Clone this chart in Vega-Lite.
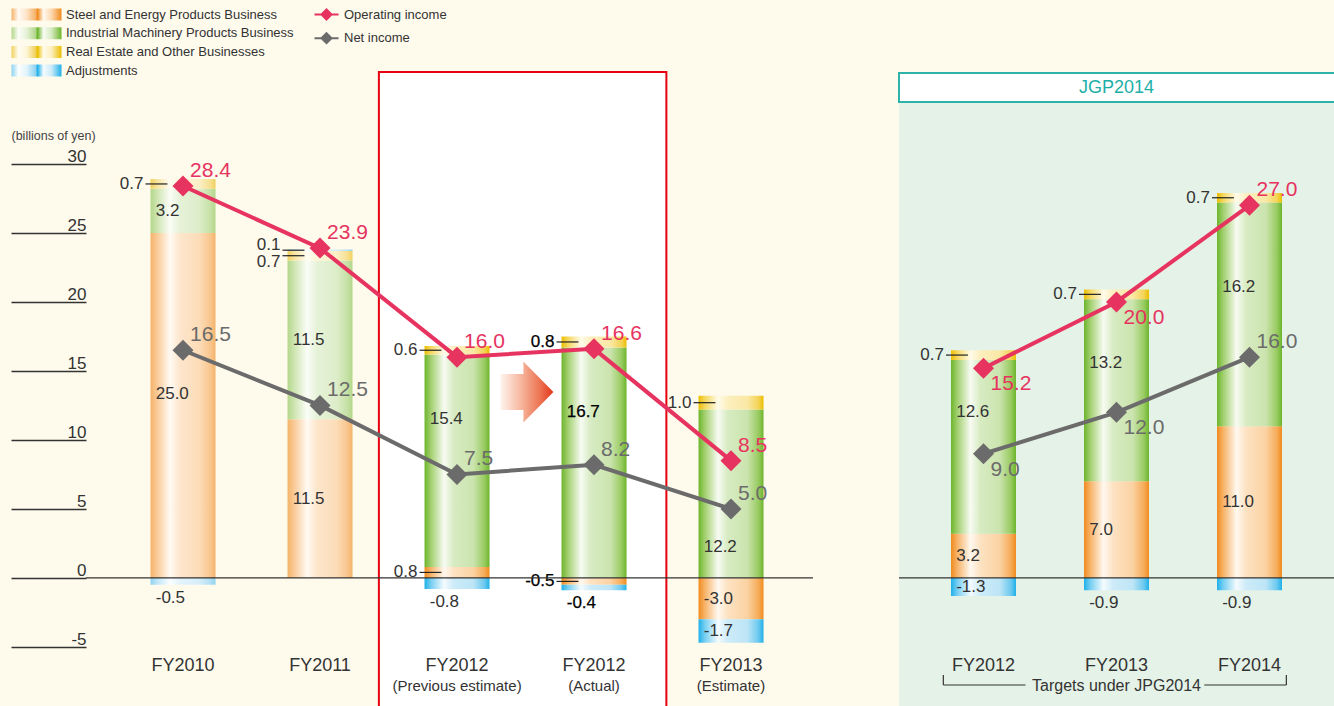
{
  "$schema": "https://vega.github.io/schema/vega-lite/v6.json",
  "background": "#fefaec",
  "padding": {"left": 10, "top": 0, "right": 0, "bottom": 0},
  "spacing": 84,
  "config": {"font": "Liberation Sans", "view": {"stroke": null}},
  "datasets": {
    "leftBars": [
      {"cat": "FY2010", "seg": "Steel and Energy Products Business", "v": 25.0},
      {"cat": "FY2010", "seg": "Industrial Machinery Products Business", "v": 3.2},
      {"cat": "FY2010", "seg": "Real Estate and Other Businesses", "v": 0.7},
      {"cat": "FY2010", "seg": "Adjustments", "v": -0.5},
      {"cat": "FY2011", "seg": "Steel and Energy Products Business", "v": 11.5},
      {"cat": "FY2011", "seg": "Industrial Machinery Products Business", "v": 11.5},
      {"cat": "FY2011", "seg": "Real Estate and Other Businesses", "v": 0.7},
      {"cat": "FY2011", "seg": "Adjustments", "v": 0.1},
      {"cat": "FY2012 (Previous estimate)", "seg": "Steel and Energy Products Business", "v": 0.8},
      {"cat": "FY2012 (Previous estimate)", "seg": "Industrial Machinery Products Business", "v": 15.4},
      {"cat": "FY2012 (Previous estimate)", "seg": "Real Estate and Other Businesses", "v": 0.6},
      {"cat": "FY2012 (Previous estimate)", "seg": "Adjustments", "v": -0.8},
      {"cat": "FY2012 (Actual)", "seg": "Steel and Energy Products Business", "v": -0.5},
      {"cat": "FY2012 (Actual)", "seg": "Industrial Machinery Products Business", "v": 16.7},
      {"cat": "FY2012 (Actual)", "seg": "Real Estate and Other Businesses", "v": 0.8},
      {"cat": "FY2012 (Actual)", "seg": "Adjustments", "v": -0.4},
      {"cat": "FY2013 (Estimate)", "seg": "Steel and Energy Products Business", "v": -3.0},
      {"cat": "FY2013 (Estimate)", "seg": "Industrial Machinery Products Business", "v": 12.2},
      {"cat": "FY2013 (Estimate)", "seg": "Real Estate and Other Businesses", "v": 1.0},
      {"cat": "FY2013 (Estimate)", "seg": "Adjustments", "v": -1.7}
    ],
    "leftLines": [
      {"cat": "FY2010", "series": "Operating income", "v": 28.4},
      {"cat": "FY2011", "series": "Operating income", "v": 23.9},
      {"cat": "FY2012 (Previous estimate)", "series": "Operating income", "v": 16.0},
      {"cat": "FY2012 (Actual)", "series": "Operating income", "v": 16.6},
      {"cat": "FY2013 (Estimate)", "series": "Operating income", "v": 8.5},
      {"cat": "FY2010", "series": "Net income", "v": 16.5},
      {"cat": "FY2011", "series": "Net income", "v": 12.5},
      {"cat": "FY2012 (Previous estimate)", "series": "Net income", "v": 7.5},
      {"cat": "FY2012 (Actual)", "series": "Net income", "v": 8.2},
      {"cat": "FY2013 (Estimate)", "series": "Net income", "v": 5.0}
    ],
    "rightBars": [
      {"cat": "FY2012", "seg": "Steel and Energy Products Business", "v": 3.2},
      {"cat": "FY2012", "seg": "Industrial Machinery Products Business", "v": 12.6},
      {"cat": "FY2012", "seg": "Real Estate and Other Businesses", "v": 0.7},
      {"cat": "FY2012", "seg": "Adjustments", "v": -1.3},
      {"cat": "FY2013", "seg": "Steel and Energy Products Business", "v": 7.0},
      {"cat": "FY2013", "seg": "Industrial Machinery Products Business", "v": 13.2},
      {"cat": "FY2013", "seg": "Real Estate and Other Businesses", "v": 0.7},
      {"cat": "FY2013", "seg": "Adjustments", "v": -0.9},
      {"cat": "FY2014", "seg": "Steel and Energy Products Business", "v": 11.0},
      {"cat": "FY2014", "seg": "Industrial Machinery Products Business", "v": 16.2},
      {"cat": "FY2014", "seg": "Real Estate and Other Businesses", "v": 0.7},
      {"cat": "FY2014", "seg": "Adjustments", "v": -0.9}
    ],
    "rightLines": [
      {"cat": "FY2012", "series": "Operating income", "v": 15.2},
      {"cat": "FY2013", "series": "Operating income", "v": 20.0},
      {"cat": "FY2014", "series": "Operating income", "v": 27.0},
      {"cat": "FY2012", "series": "Net income", "v": 9.0},
      {"cat": "FY2013", "series": "Net income", "v": 12.0},
      {"cat": "FY2014", "series": "Net income", "v": 16.0}
    ]
  },
  "hconcat": [
    {
      "width": 727,
      "height": 706,
      "encoding": {
        "x": {"field": "cat", "type": "nominal",
          "sort": ["FY2010", "FY2011", "FY2012 (Previous estimate)", "FY2012 (Actual)", "FY2013 (Estimate)"],
          "scale": {"domain": ["FY2010", "FY2011", "FY2012 (Previous estimate)", "FY2012 (Actual)", "FY2013 (Estimate)"], "paddingInner": 0.5255, "paddingOuter": 0.416, "align": 0.566},
          "axis": null}
      },
      "layer": [
        {
          "data": {"values": [{}]},
          "mark": {"type": "rect", "fill": "#ffffff", "stroke": "#e60012", "strokeWidth": 2, "clip": true},
          "encoding": {
            "x": {"datum": "FY2012 (Previous estimate)", "type": "nominal", "bandPosition": -0.702, "axis": null},
            "x2": {"datum": "FY2012 (Actual)", "bandPosition": 1.613},
            "y": {"datum": 36.66, "type": "quantitative", "title": "(billions of yen)",
              "scale": {"domain": [-9.28, 41.88], "nice": false, "zero": false},
              "axis": {"values": [-5, 0, 5, 10, 15, 20, 25, 30], "title": "(billions of yen)", "titleAngle": 0, "titleX": -75, "titleY": 135, "titleAlign": "left", "titleBaseline": "middle", "titleFontSize": 12.5, "titleFontWeight": "normal", "titleColor": "#444444", "domain": false, "grid": false, "ticks": true, "tickSize": 75, "tickColor": "#333333", "tickWidth": 1.3, "labelPadding": -75, "labelAlign": "right", "labelBaseline": "alphabetic", "labelOffset": -2, "labelFontSize": 17, "labelColor": "#333333", "labelExpr": "datum.value < 0 ? '-' + abs(datum.value) : datum.label", "labelBound": false, "labelOverlap": false, "labelFlush": false}},
            "y2": {"datum": -10}
          }
        },
        {
          "data": {"name": "leftBars"},
          "transform": [
            {"calculate": "indexof(['Steel and Energy Products Business','Industrial Machinery Products Business','Real Estate and Other Businesses','Adjustments'], datum.seg)", "as": "ord"},
            {"stack": "v", "groupby": ["cat"], "sort": [{"field": "ord", "order": "ascending"}], "as": ["y0", "y1"]},
            {"calculate": "(datum.y0 + datum.y1) / 2", "as": "ym"},
            {"calculate": "(datum.v < 0 ? '-' : '') + format(abs(datum.v), '.1f')", "as": "lbl"}
          ],
          "layer": [
            {
              "mark": {"type": "bar", "strokeWidth": 0},
              "encoding": {
                "y": {"field": "y0", "type": "quantitative", "title": "(billions of yen)"},
                "y2": {"field": "y1"},
                "fill": {
                  "field": "seg", "type": "nominal",
                  "scale": {"domain": ["Steel and Energy Products Business", "Industrial Machinery Products Business", "Real Estate and Other Businesses", "Adjustments"],
                    "range": [
                      {"expr": "{gradient:'linear',x1:0,y1:0,x2:1,y2:0,stops:[{offset:0,color:'#f5b36a'},{offset:0.14,color:'#fffaf3'},{offset:0.3,color:'#fde4c8'},{offset:0.48,color:'#f5b36a'},{offset:0.52,color:'#f08b1f'},{offset:0.64,color:'#fff8ef'},{offset:0.8,color:'#fcd8ae'},{offset:1,color:'#f08b1f'}]}"},
                      {"expr": "{gradient:'linear',x1:0,y1:0,x2:1,y2:0,stops:[{offset:0,color:'#b3d78a'},{offset:0.14,color:'#fbfdf7'},{offset:0.3,color:'#e6f2d8'},{offset:0.48,color:'#b3d78a'},{offset:0.52,color:'#6cb52c'},{offset:0.64,color:'#f7fbf2'},{offset:0.8,color:'#d7ebc2'},{offset:1,color:'#6cb52c'}]}"},
                      {"expr": "{gradient:'linear',x1:0,y1:0,x2:1,y2:0,stops:[{offset:0,color:'#f1d15e'},{offset:0.14,color:'#fffdf3'},{offset:0.3,color:'#fdf5d8'},{offset:0.48,color:'#f1d15e'},{offset:0.52,color:'#ebbe00'},{offset:0.64,color:'#fffbea'},{offset:0.8,color:'#fcefbf'},{offset:1,color:'#ebbe00'}]}"},
                      {"expr": "{gradient:'linear',x1:0,y1:0,x2:1,y2:0,stops:[{offset:0,color:'#8fd3f0'},{offset:0.14,color:'#fbfeff'},{offset:0.3,color:'#e3f4fb'},{offset:0.48,color:'#8fd3f0'},{offset:0.52,color:'#1fb0e9'},{offset:0.64,color:'#f4fbfe'},{offset:0.8,color:'#cdebf8'},{offset:1,color:'#1fb0e9'}]}"}
                    ]},
                  "legend": {"orient": "none", "legendX": -75, "legendY": 8, "title": null, "direction": "vertical", "symbolType": "M-1,-1 H7.333 V1 H-1 Z", "symbolSize": 144, "symbolStrokeWidth": 0, "symbolOpacity": 1, "labelOffset": 42, "labelFontSize": 13, "labelColor": "#333333", "labelLimit": 400, "rowPadding": 4.7, "padding": 0},
                  "condition": [
                    {"test": "(datum.cat==='FY2010'||datum.cat==='FY2011') && datum.seg==='Steel and Energy Products Business'", "value": {"gradient": "linear", "x1": 0, "y1": 0, "x2": 1, "y2": 0, "stops": [{"offset": 0, "color": "#f5b36a"}, {"offset": 0.1, "color": "#f9ca96"}, {"offset": 0.3, "color": "#fffaf3"}, {"offset": 0.45, "color": "#fde6cc"}, {"offset": 0.75, "color": "#fcdcb8"}, {"offset": 0.92, "color": "#f8c68e"}, {"offset": 1, "color": "#f5b36a"}]}},
                    {"test": "(datum.cat==='FY2010'||datum.cat==='FY2011') && datum.seg==='Industrial Machinery Products Business'", "value": {"gradient": "linear", "x1": 0, "y1": 0, "x2": 1, "y2": 0, "stops": [{"offset": 0, "color": "#b3d78a"}, {"offset": 0.1, "color": "#cde5b0"}, {"offset": 0.3, "color": "#fbfdf7"}, {"offset": 0.45, "color": "#e6f2d8"}, {"offset": 0.75, "color": "#ddedca"}, {"offset": 0.92, "color": "#c6e1a6"}, {"offset": 1, "color": "#b3d78a"}]}},
                    {"test": "(datum.cat==='FY2010'||datum.cat==='FY2011') && datum.seg==='Real Estate and Other Businesses'", "value": {"gradient": "linear", "x1": 0, "y1": 0, "x2": 1, "y2": 0, "stops": [{"offset": 0, "color": "#f1d15e"}, {"offset": 0.1, "color": "#f7e39d"}, {"offset": 0.3, "color": "#fffdf3"}, {"offset": 0.45, "color": "#fdf5d8"}, {"offset": 0.75, "color": "#fbefc6"}, {"offset": 0.92, "color": "#f6df90"}, {"offset": 1, "color": "#f1d15e"}]}},
                    {"test": "(datum.cat==='FY2010'||datum.cat==='FY2011') && datum.seg==='Adjustments'", "value": {"gradient": "linear", "x1": 0, "y1": 0, "x2": 1, "y2": 0, "stops": [{"offset": 0, "color": "#8fd3f0"}, {"offset": 0.1, "color": "#bfe6f7"}, {"offset": 0.3, "color": "#fbfeff"}, {"offset": 0.45, "color": "#e3f4fb"}, {"offset": 0.75, "color": "#d6eefa"}, {"offset": 0.92, "color": "#b2e0f4"}, {"offset": 1, "color": "#8fd3f0"}]}},
                    {"test": "datum.seg==='Steel and Energy Products Business'", "value": {"gradient": "linear", "x1": 0, "y1": 0, "x2": 1, "y2": 0, "stops": [{"offset": 0, "color": "#f08b1f"}, {"offset": 0.1, "color": "#f7b46a"}, {"offset": 0.3, "color": "#fff8ef"}, {"offset": 0.45, "color": "#fde2c2"}, {"offset": 0.75, "color": "#fbd2a2"}, {"offset": 0.92, "color": "#f6ac5a"}, {"offset": 1, "color": "#f08b1f"}]}},
                    {"test": "datum.seg==='Industrial Machinery Products Business'", "value": {"gradient": "linear", "x1": 0, "y1": 0, "x2": 1, "y2": 0, "stops": [{"offset": 0, "color": "#6cb52c"}, {"offset": 0.1, "color": "#a3d070"}, {"offset": 0.3, "color": "#f7fbf2"}, {"offset": 0.45, "color": "#d7ebc2"}, {"offset": 0.75, "color": "#cbe4ae"}, {"offset": 0.92, "color": "#99cb62"}, {"offset": 1, "color": "#6cb52c"}]}},
                    {"test": "datum.seg==='Real Estate and Other Businesses'", "value": {"gradient": "linear", "x1": 0, "y1": 0, "x2": 1, "y2": 0, "stops": [{"offset": 0, "color": "#ebbe00"}, {"offset": 0.1, "color": "#f5d860"}, {"offset": 0.3, "color": "#fffbea"}, {"offset": 0.45, "color": "#fcefbf"}, {"offset": 0.75, "color": "#fae8a5"}, {"offset": 0.92, "color": "#f4d457"}, {"offset": 1, "color": "#ebbe00"}]}},
                    {"test": "datum.seg==='Adjustments'", "value": {"gradient": "linear", "x1": 0, "y1": 0, "x2": 1, "y2": 0, "stops": [{"offset": 0, "color": "#1fb0e9"}, {"offset": 0.1, "color": "#78cff2"}, {"offset": 0.3, "color": "#f4fbfe"}, {"offset": 0.45, "color": "#cdebf8"}, {"offset": 0.75, "color": "#bde5f6"}, {"offset": 0.92, "color": "#6cc9ef"}, {"offset": 1, "color": "#1fb0e9"}]}}
                  ]
                }
              }
            },
            {
              "transform": [{"filter": "datum.seg==='Real Estate and Other Businesses' || (abs(datum.v)<1 && !(datum.seg==='Adjustments' && datum.v<0))"}],
              "mark": {"type": "rule", "color": "#222222", "strokeWidth": 1.2},
              "encoding": {
                "x": {"field": "cat", "type": "nominal", "bandPosition": -0.077},
                "x2": {"field": "cat", "bandPosition": 0.26},
                "y": {"field": "ym", "type": "quantitative", "title": "(billions of yen)"}
              }
            },
            {
              "transform": [{"filter": "datum.seg!=='Real Estate and Other Businesses' && abs(datum.v)>=1"}],
              "encoding": {
                "x": {"field": "cat", "type": "nominal", "bandPosition": 0.08},
                "y": {"field": "ym", "type": "quantitative", "title": "(billions of yen)"},
                "text": {"field": "lbl"},
                "color": {"condition": {"test": "datum.cat==='FY2012 (Actual)'", "value": "#000000"}, "value": "#333333"},
                "stroke": {"condition": {"test": "datum.cat==='FY2012 (Actual)'", "value": "#000000"}, "value": "transparent"}
              },
              "layer": [
                {"transform": [{"filter": "!((datum.cat==='FY2010' && datum.seg==='Steel and Energy Products Business') || (datum.seg==='Industrial Machinery Products Business' && datum.cat!=='FY2010' && datum.cat!=='FY2011'))"}],
                 "mark": {"type": "text", "align": "left", "baseline": "middle", "fontSize": 17, "strokeWidth": 0.25}},
                {"transform": [{"filter": "datum.cat==='FY2010' && datum.seg==='Steel and Energy Products Business'"}],
                 "mark": {"type": "text", "align": "left", "baseline": "middle", "fontSize": 17, "strokeWidth": 0.25, "dy": -11}},
                {"transform": [{"filter": "datum.cat==='FY2012 (Previous estimate)' && datum.seg==='Industrial Machinery Products Business'"}],
                 "mark": {"type": "text", "align": "left", "baseline": "middle", "fontSize": 17, "strokeWidth": 0.25, "dy": -42}},
                {"transform": [{"filter": "datum.cat==='FY2012 (Actual)' && datum.seg==='Industrial Machinery Products Business'"}],
                 "mark": {"type": "text", "align": "left", "baseline": "middle", "fontSize": 17, "strokeWidth": 0.25, "dy": -51}},
                {"transform": [{"filter": "datum.cat==='FY2013 (Estimate)' && datum.seg==='Industrial Machinery Products Business'"}],
                 "mark": {"type": "text", "align": "left", "baseline": "middle", "fontSize": 17, "strokeWidth": 0.25, "dy": 53}}
              ]
            },
            {
              "transform": [{"filter": "datum.seg==='Real Estate and Other Businesses' || (abs(datum.v)<1 && !(datum.seg==='Adjustments' && datum.v<0))"}],
              "encoding": {
                "x": {"field": "cat", "type": "nominal", "bandPosition": -0.108},
                "y": {"field": "ym", "type": "quantitative", "title": "(billions of yen)"},
                "text": {"field": "lbl"},
                "color": {"condition": {"test": "datum.cat==='FY2012 (Actual)'", "value": "#000000"}, "value": "#333333"},
                "stroke": {"condition": {"test": "datum.cat==='FY2012 (Actual)'", "value": "#000000"}, "value": "transparent"}
              },
              "layer": [
                {"transform": [{"filter": "datum.cat!=='FY2011'"}],
                 "mark": {"type": "text", "align": "right", "baseline": "middle", "fontSize": 17, "strokeWidth": 0.25}},
                {"transform": [{"filter": "datum.cat==='FY2011' && datum.seg==='Adjustments'"}],
                 "mark": {"type": "text", "align": "right", "baseline": "middle", "fontSize": 17, "strokeWidth": 0.25, "dy": -5}},
                {"transform": [{"filter": "datum.cat==='FY2011' && datum.seg!=='Adjustments'"}],
                 "mark": {"type": "text", "align": "right", "baseline": "middle", "fontSize": 17, "strokeWidth": 0.25, "dy": 6}}
              ]
            },
            {
              "transform": [{"filter": "datum.seg==='Adjustments' && datum.v<0 && datum.v>-1"}],
              "mark": {"type": "text", "align": "left", "baseline": "middle", "fontSize": 17, "strokeWidth": 0.25, "dy": 13},
              "encoding": {
                "x": {"field": "cat", "type": "nominal", "bandPosition": 0.08},
                "y": {"field": "y1", "type": "quantitative", "title": "(billions of yen)"},
                "text": {"field": "lbl"},
                "color": {"condition": {"test": "datum.cat==='FY2012 (Actual)'", "value": "#000000"}, "value": "#333333"},
                "stroke": {"condition": {"test": "datum.cat==='FY2012 (Actual)'", "value": "#000000"}, "value": "transparent"}
              }
            }
          ]
        },
        {
          "data": {"values": [{}]},
          "mark": {"type": "rule", "color": "#333333", "strokeWidth": 1.3},
          "encoding": {
            "x": {"value": 0},
            "x2": {"value": "width"},
            "y": {"datum": 0, "type": "quantitative", "title": "(billions of yen)"}
          }
        },
        {
          "data": {"name": "leftLines"},
          "layer": [
            {
              "mark": {"type": "line", "strokeWidth": 4},
              "encoding": {
                "y": {"field": "v", "type": "quantitative", "title": "(billions of yen)"},
                "stroke": {"field": "series", "type": "nominal",
                  "scale": {"domain": ["Operating income", "Net income"], "range": ["#e6335f", "#6b6b6b"]},
                  "legend": {"orient": "none", "legendX": 227, "legendY": 8, "title": null, "direction": "vertical", "symbolType": "M-1,0 L3.8,0 M0.4,0 L1.4,-1 L2.4,0 L1.4,1 Z", "symbolSize": 100, "symbolStrokeWidth": 2, "labelOffset": 18, "labelFontSize": 13, "labelColor": "#333333", "rowPadding": 4.7, "padding": 0,
                    "encode": {"symbols": {"update": {"fill": {"signal": "datum.value==='Operating income' ? '#e6335f' : '#6b6b6b'"}}}}}
                }
              }
            },
            {
              "mark": {"type": "point", "shape": "diamond", "size": 441, "filled": true, "opacity": 1, "strokeWidth": 0},
              "encoding": {
                "y": {"field": "v", "type": "quantitative", "title": "(billions of yen)"},
                "fill": {"condition": {"test": "datum.series==='Operating income'", "value": "#e6335f"}, "value": "#6b6b6b"}
              }
            },
            {
              "mark": {"type": "text", "align": "left", "baseline": "middle", "dx": 7, "dy": -15, "fontSize": 21},
              "encoding": {
                "y": {"field": "v", "type": "quantitative", "title": "(billions of yen)"},
                "text": {"field": "v", "type": "quantitative", "format": ".1f"},
                "color": {"condition": {"test": "datum.series==='Operating income'", "value": "#e6335f"}, "value": "#6b6b6b"}
              }
            }
          ]
        },
        {
          "data": {"name": "leftLines"},
          "transform": [
            {"filter": "datum.series==='Operating income'"},
            {"calculate": "split(datum.cat, ' (')[0]", "as": "l1"},
            {"calculate": "indexof(datum.cat, '(') >= 0 ? substring(datum.cat, indexof(datum.cat, '(')) : ''", "as": "l2"}
          ],
          "layer": [
            {"mark": {"type": "text", "fontSize": 18, "color": "#333333", "baseline": "middle"},
             "encoding": {"y": {"datum": -6.38, "type": "quantitative", "title": "(billions of yen)"}, "text": {"field": "l1"}}},
            {"mark": {"type": "text", "fontSize": 15, "color": "#333333", "baseline": "middle"},
             "encoding": {"y": {"datum": -7.83, "type": "quantitative", "title": "(billions of yen)"}, "text": {"field": "l2"}}}
          ]
        },
        {
          "data": {"values": [{}]},
          "mark": {"type": "point", "shape": "M-0.869,-0.59 L-0.115,-0.59 L-0.115,-1 L0.869,0 L-0.115,1 L-0.115,0.59 L-0.869,0.59 Z", "size": 3721, "filled": true, "opacity": 1, "strokeWidth": 0,
            "fill": {"gradient": "linear", "x1": 0, "y1": 0, "x2": 1, "y2": 0, "stops": [{"offset": 0, "color": "#fef4ee"}, {"offset": 0.4, "color": "#f6b59b"}, {"offset": 0.75, "color": "#ec7352"}, {"offset": 1, "color": "#e4341a"}]}},
          "encoding": {
            "x": {"datum": "FY2012 (Previous estimate)", "type": "nominal", "bandPosition": 1.575},
            "y": {"datum": 13.47, "type": "quantitative", "title": "(billions of yen)"}
          }
        }
      ]
    },
    {
      "width": 437,
      "height": 706,
      "encoding": {
        "x": {"field": "cat", "type": "nominal",
          "sort": ["FY2012", "FY2013", "FY2014"],
          "scale": {"domain": ["FY2012", "FY2013", "FY2014"], "paddingInner": 0.5113, "paddingOuter": 0.3985, "align": 0.4906},
          "axis": null}
      },
      "layer": [
        {
          "data": {"values": [{}]},
          "mark": {"type": "rect", "fill": "#e5f2e7", "clip": true},
          "encoding": {
            "x": {"value": 0},
            "x2": {"value": "width"},
            "y": {"datum": 34.49, "type": "quantitative", "scale": {"domain": [-9.28, 41.88], "nice": false, "zero": false}, "axis": null},
            "y2": {"datum": -10}
          }
        },
        {
          "data": {"values": [{}]},
          "mark": {"type": "rect", "fill": "#ffffff", "stroke": "#2db3aa", "strokeWidth": 2},
          "encoding": {
            "x": {"value": 0},
            "x2": {"value": "width"},
            "y": {"datum": 36.59, "type": "quantitative", "axis": null},
            "y2": {"datum": 34.49}
          }
        },
        {
          "data": {"values": [{}]},
          "mark": {"type": "text", "text": "JGP2014", "fontSize": 18, "color": "#1cb0a8", "baseline": "middle"},
          "encoding": {
            "x": {"datum": "FY2013", "type": "nominal"},
            "y": {"datum": 35.51, "type": "quantitative", "axis": null}
          }
        },
        {
          "data": {"name": "rightBars"},
          "transform": [
            {"calculate": "indexof(['Steel and Energy Products Business','Industrial Machinery Products Business','Real Estate and Other Businesses','Adjustments'], datum.seg)", "as": "ord"},
            {"stack": "v", "groupby": ["cat"], "sort": [{"field": "ord", "order": "ascending"}], "as": ["y0", "y1"]},
            {"calculate": "(datum.y0 + datum.y1) / 2", "as": "ym"},
            {"calculate": "(datum.v < 0 ? '-' : '') + format(abs(datum.v), '.1f')", "as": "lbl"}
          ],
          "layer": [
            {
              "mark": {"type": "bar", "strokeWidth": 0},
              "encoding": {
                "y": {"field": "y0", "type": "quantitative", "axis": null},
                "y2": {"field": "y1"},
                "fill": {
                  "field": "seg", "type": "nominal",
                  "legend": null,
                  "condition": [
                    {"test": "datum.seg==='Steel and Energy Products Business'", "value": {"gradient": "linear", "x1": 0, "y1": 0, "x2": 1, "y2": 0, "stops": [{"offset": 0, "color": "#f08b1f"}, {"offset": 0.1, "color": "#f7b46a"}, {"offset": 0.3, "color": "#fff8ef"}, {"offset": 0.45, "color": "#fde2c2"}, {"offset": 0.75, "color": "#fbd2a2"}, {"offset": 0.92, "color": "#f6ac5a"}, {"offset": 1, "color": "#f08b1f"}]}},
                    {"test": "datum.seg==='Industrial Machinery Products Business'", "value": {"gradient": "linear", "x1": 0, "y1": 0, "x2": 1, "y2": 0, "stops": [{"offset": 0, "color": "#6cb52c"}, {"offset": 0.1, "color": "#a3d070"}, {"offset": 0.3, "color": "#f7fbf2"}, {"offset": 0.45, "color": "#d7ebc2"}, {"offset": 0.75, "color": "#cbe4ae"}, {"offset": 0.92, "color": "#99cb62"}, {"offset": 1, "color": "#6cb52c"}]}},
                    {"test": "datum.seg==='Real Estate and Other Businesses'", "value": {"gradient": "linear", "x1": 0, "y1": 0, "x2": 1, "y2": 0, "stops": [{"offset": 0, "color": "#ebbe00"}, {"offset": 0.1, "color": "#f5d860"}, {"offset": 0.3, "color": "#fffbea"}, {"offset": 0.45, "color": "#fcefbf"}, {"offset": 0.75, "color": "#fae8a5"}, {"offset": 0.92, "color": "#f4d457"}, {"offset": 1, "color": "#ebbe00"}]}},
                    {"test": "datum.seg==='Adjustments'", "value": {"gradient": "linear", "x1": 0, "y1": 0, "x2": 1, "y2": 0, "stops": [{"offset": 0, "color": "#1fb0e9"}, {"offset": 0.1, "color": "#78cff2"}, {"offset": 0.3, "color": "#f4fbfe"}, {"offset": 0.45, "color": "#cdebf8"}, {"offset": 0.75, "color": "#bde5f6"}, {"offset": 0.92, "color": "#6cc9ef"}, {"offset": 1, "color": "#1fb0e9"}]}}
                  ]
                }
              }
            },
            {
              "transform": [{"filter": "datum.seg==='Real Estate and Other Businesses' || (abs(datum.v)<1 && !(datum.seg==='Adjustments' && datum.v<0))"}],
              "mark": {"type": "rule", "color": "#222222", "strokeWidth": 1.2},
              "encoding": {
                "x": {"field": "cat", "type": "nominal", "bandPosition": -0.077},
                "x2": {"field": "cat", "bandPosition": 0.26},
                "y": {"field": "ym", "type": "quantitative", "axis": null}
              }
            },
            {
              "transform": [{"filter": "datum.seg!=='Real Estate and Other Businesses' && abs(datum.v)>=1"}],
              "encoding": {
                "x": {"field": "cat", "type": "nominal", "bandPosition": 0.08},
                "y": {"field": "ym", "type": "quantitative", "axis": null},
                "text": {"field": "lbl"},
                "color": {"value": "#333333"}
              },
              "layer": [
                {"transform": [{"filter": "datum.seg!=='Industrial Machinery Products Business'"}],
                 "mark": {"type": "text", "align": "left", "baseline": "middle", "fontSize": 17}},
                {"transform": [{"filter": "datum.seg==='Industrial Machinery Products Business' && datum.cat==='FY2012'"}],
                 "mark": {"type": "text", "align": "left", "baseline": "middle", "fontSize": 17, "dy": -35}},
                {"transform": [{"filter": "datum.seg==='Industrial Machinery Products Business' && datum.cat!=='FY2012'"}],
                 "mark": {"type": "text", "align": "left", "baseline": "middle", "fontSize": 17, "dy": -27}}
              ]
            },
            {
              "transform": [{"filter": "datum.seg==='Real Estate and Other Businesses' || (abs(datum.v)<1 && !(datum.seg==='Adjustments' && datum.v<0))"}],
              "mark": {"type": "text", "align": "right", "baseline": "middle", "fontSize": 17, "color": "#333333"},
              "encoding": {
                "x": {"field": "cat", "type": "nominal", "bandPosition": -0.108},
                "y": {"field": "ym", "type": "quantitative", "axis": null},
                "text": {"field": "lbl"}
              }
            },
            {
              "transform": [{"filter": "datum.seg==='Adjustments' && datum.v<0 && datum.v>-1"}],
              "mark": {"type": "text", "align": "left", "baseline": "middle", "fontSize": 17, "color": "#333333", "dy": 13},
              "encoding": {
                "x": {"field": "cat", "type": "nominal", "bandPosition": 0.08},
                "y": {"field": "y1", "type": "quantitative", "axis": null},
                "text": {"field": "lbl"}
              }
            }
          ]
        },
        {
          "data": {"values": [{}]},
          "mark": {"type": "rule", "color": "#333333", "strokeWidth": 1.3},
          "encoding": {
            "x": {"value": 0},
            "x2": {"value": "width"},
            "y": {"datum": 0, "type": "quantitative", "axis": null}
          }
        },
        {
          "data": {"name": "rightLines"},
          "layer": [
            {
              "mark": {"type": "line", "strokeWidth": 4},
              "encoding": {
                "y": {"field": "v", "type": "quantitative", "axis": null},
                "stroke": {"field": "series", "type": "nominal", "legend": null}
              }
            },
            {
              "mark": {"type": "point", "shape": "diamond", "size": 441, "filled": true, "opacity": 1, "strokeWidth": 0},
              "encoding": {
                "y": {"field": "v", "type": "quantitative", "axis": null},
                "fill": {"condition": {"test": "datum.series==='Operating income'", "value": "#e6335f"}, "value": "#6b6b6b"}
              }
            },
            {
              "transform": [{"filter": "datum.cat==='FY2014'"}],
              "mark": {"type": "text", "align": "left", "baseline": "middle", "dx": 7, "dy": -15, "fontSize": 21},
              "encoding": {
                "y": {"field": "v", "type": "quantitative", "axis": null},
                "text": {"field": "v", "type": "quantitative", "format": ".1f"},
                "color": {"condition": {"test": "datum.series==='Operating income'", "value": "#e6335f"}, "value": "#6b6b6b"}
              }
            },
            {
              "transform": [{"filter": "datum.cat!=='FY2014'"}],
              "mark": {"type": "text", "align": "left", "baseline": "middle", "dx": 7, "dy": 16, "fontSize": 21},
              "encoding": {
                "y": {"field": "v", "type": "quantitative", "axis": null},
                "text": {"field": "v", "type": "quantitative", "format": ".1f"},
                "color": {"condition": {"test": "datum.series==='Operating income'", "value": "#e6335f"}, "value": "#6b6b6b"}
              }
            }
          ]
        },
        {
          "data": {"name": "rightLines"},
          "transform": [{"filter": "datum.series==='Operating income'"}],
          "mark": {"type": "text", "fontSize": 18, "color": "#333333", "baseline": "middle"},
          "encoding": {"y": {"datum": -6.38, "type": "quantitative", "axis": null}, "text": {"field": "cat"}}
        },
        {
          "data": {"values": [{}]},
          "mark": {"type": "rule", "color": "#333333", "strokeWidth": 1.2},
          "encoding": {
            "x": {"datum": "FY2012", "type": "nominal", "bandPosition": -0.118},
            "x2": {"datum": "FY2013", "bandPosition": -0.9},
            "y": {"datum": -7.76, "type": "quantitative", "axis": null}
          }
        },
        {
          "data": {"values": [{}]},
          "mark": {"type": "rule", "color": "#333333", "strokeWidth": 1.2},
          "encoding": {
            "x": {"datum": "FY2013", "type": "nominal", "bandPosition": 1.85},
            "x2": {"datum": "FY2014", "bandPosition": 1.067},
            "y": {"datum": -7.76, "type": "quantitative", "axis": null}
          }
        },
        {
          "data": {"values": [{}]},
          "mark": {"type": "rule", "color": "#333333", "strokeWidth": 1.2},
          "encoding": {
            "x": {"datum": "FY2012", "type": "nominal", "bandPosition": -0.118},
            "y": {"datum": -7.76, "type": "quantitative", "axis": null},
            "y2": {"datum": -7.03}
          }
        },
        {
          "data": {"values": [{}]},
          "mark": {"type": "rule", "color": "#333333", "strokeWidth": 1.2},
          "encoding": {
            "x": {"datum": "FY2014", "type": "nominal", "bandPosition": 1.067},
            "y": {"datum": -7.76, "type": "quantitative", "axis": null},
            "y2": {"datum": -7.03}
          }
        },
        {
          "data": {"values": [{}]},
          "mark": {"type": "text", "text": "Targets under JPG2014", "fontSize": 16, "color": "#333333", "baseline": "middle"},
          "encoding": {
            "x": {"datum": "FY2013", "type": "nominal"},
            "y": {"datum": -7.83, "type": "quantitative", "axis": null}
          }
        }
      ]
    }
  ]
}
